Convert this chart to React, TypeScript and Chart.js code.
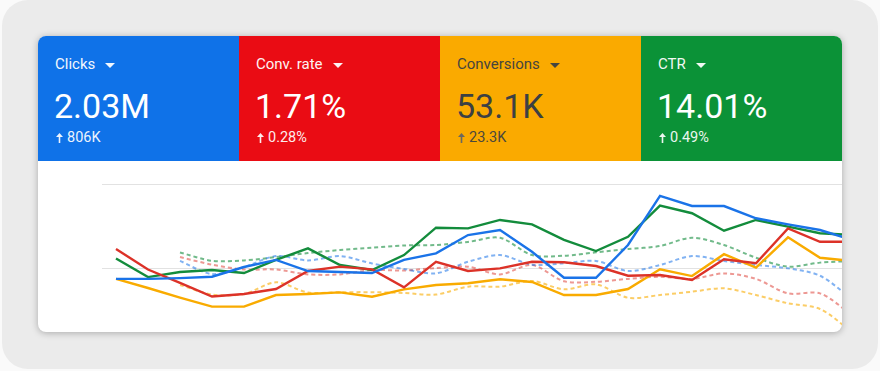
import React, { useEffect, useRef } from "react";
import { Chart, registerables } from "chart.js";

Chart.register(...registerables);

// ---- Data ----
const periods = [
  "W1", "W2", "W3", "W4", "W5", "W6", "W7", "W8", "W9", "W10", "W11", "W12",
  "W13", "W14", "W15", "W16", "W17", "W18", "W19", "W20", "W21", "W22", "W23", "W24",
];

// current period (solid lines), normalised index 0-100
const clicks = [43.5, 43.5, 44.0, 44.8, 50.6, 54.8, 48.2, 47.6, 47.0, 54.8, 58.7, 69.6, 72.6, 59.7, 44.2, 44.2, 63.7, 92.9, 86.9, 86.9, 79.6, 76.0, 72.6, 66.7];
const convRate = [61.3, 49.1, 41.1, 33.0, 34.5, 37.5, 48.2, 50.8, 49.2, 38.5, 53.7, 48.2, 49.8, 53.7, 53.4, 51.2, 45.4, 45.8, 42.9, 55.2, 52.8, 73.6, 65.6, 65.6];
const conversions = [43.5, 38.1, 32.4, 27.0, 27.0, 33.9, 34.5, 35.5, 32.9, 37.3, 39.9, 40.9, 43.3, 41.7, 33.9, 33.9, 37.5, 49.2, 45.2, 58.2, 50.2, 68.3, 56.1, 54.2];
const ctr = [55.7, 44.6, 47.6, 48.8, 47.0, 54.8, 61.7, 51.8, 48.8, 57.7, 74.0, 73.6, 78.6, 76.0, 66.7, 60.1, 68.6, 87.1, 82.6, 72.2, 78.6, 74.6, 70.7, 69.6];

// previous period (dashed lines)
const clicksPrev = [null, null, 54.2, 46.4, 50.6, 57.1, 54.5, 57.1, 52.7, 49.4, 46.8, 53.7, 57.7, 52.0, 52.8, 54.2, 48.2, 51.8, 57.1, 54.2, 51.8, 49.8, 45.4, 31.5];
const convRatePrev = [null, null, 56.5, 52.0, 49.1, 49.1, 46.2, 46.2, 48.8, 48.5, 50.0, 50.8, 46.2, 51.8, 42.1, 41.8, 43.5, 44.8, 43.5, 46.8, 43.5, 34.9, 34.9, 22.0];
const conversionsPrev = [null, null, 39.9, 34.2, 34.5, 41.5, 35.4, 35.6, 35.6, 35.1, 34.2, 38.9, 38.9, 42.3, 37.3, 40.3, 32.3, 33.9, 35.9, 37.9, 33.9, 29.0, 25.6, 11.9];
const ctrPrev = [null, null, 59.2, 54.3, 54.5, 56.5, 58.9, 60.7, 62.1, 63.4, 63.7, 65.5, 68.0, 57.7, 57.3, 59.3, 61.3, 63.1, 68.0, 63.7, 56.1, 50.8, 53.2, 54.2];

const yTicks = [0, 50, 100];

const tileTitles = ["Clicks", "Conv. rate", "Conversions", "CTR"];
const tileValues = ["2.03M", "1.71%", "53.1K", "14.01%"];
const tileDeltas = ["806K", "0.28%", "23.3K", "0.49%"];

// ---- Styles ----
const tileBg = ["#0f72e8", "#ea0c14", "#faaa00", "#0b9237"];
const tileFg = ["#ffffff", "#ffffff", "#3c4043", "#ffffff"];
const lineColors = ["#1a73e8", "#dc3228", "#f9ab00", "#138c3c"];
const dashColors = [
  "rgba(26,115,232,0.55)",
  "rgba(220,50,40,0.5)",
  "rgba(249,171,0,0.6)",
  "rgba(19,140,60,0.6)",
];

const toPts = (arr: (number | null)[]) => arr.map((v, i) => ({ x: i, y: v }));

function Arrow({ color }: { color: string }) {
  return (
    <svg width="7" height="10" viewBox="0 0 7 10" style={{ marginRight: 4, display: "inline-block" }}>
      <path d="M3.5 0 L7 4 L4.3 4 L4.3 10 L2.7 10 L2.7 4 L0 4 Z" fill={color} />
    </svg>
  );
}

function Tile({ i }: { i: number }) {
  const fg = tileFg[i];
  return (
    <div
      style={{
        position: "absolute",
        left: i * 201,
        top: 0,
        width: 201,
        height: 125,
        background: tileBg[i],
        color: fg,
      }}
    >
      <div
        style={{
          position: "absolute",
          left: 17,
          top: 20.5,
          fontSize: 15,
          lineHeight: "15px",
          whiteSpace: "nowrap",
          display: "flex",
          alignItems: "center",
          opacity: 0.95,
        }}
      >
        <span>{tileTitles[i]}</span>
        <span
          style={{
            display: "inline-block",
            marginLeft: 10,
            width: 0,
            height: 0,
            borderLeft: "5px solid transparent",
            borderRight: "5px solid transparent",
            borderTop: `5px solid ${fg}`,
            marginTop: 2,
          }}
        />
      </div>
      <div
        style={{
          position: "absolute",
          left: 16,
          top: 52.5,
          fontSize: 34,
          lineHeight: "34px",
          whiteSpace: "nowrap",
        }}
      >
        {tileValues[i]}
      </div>
      <div
        style={{
          position: "absolute",
          left: 18,
          top: 95,
          fontSize: 14.5,
          lineHeight: "14.5px",
          whiteSpace: "nowrap",
          display: "flex",
          alignItems: "center",
          opacity: 0.92,
        }}
      >
        <Arrow color={i === 2 ? "#5f6368" : fg} />
        <span>{tileDeltas[i]}</span>
      </div>
    </div>
  );
}

export default function App() {
  const canvasRef = useRef<HTMLCanvasElement | null>(null);

  useEffect(() => {
    if (!canvasRef.current) return;
    const solid = [clicks, convRate, conversions, ctr];
    const prev = [clicksPrev, convRatePrev, conversionsPrev, ctrPrev];
    const datasets: any[] = [];
    solid.forEach((arr, k) => {
      datasets.push({
        label: tileTitles[k],
        data: toPts(arr),
        borderColor: lineColors[k],
        borderWidth: 2.4,
        pointRadius: 0,
        tension: 0,
        fill: false,
        order: 1,
      });
    });
    prev.forEach((arr, k) => {
      datasets.push({
        label: tileTitles[k] + " (previous)",
        data: toPts(arr),
        borderColor: dashColors[k],
        borderWidth: 2,
        borderDash: [4, 3],
        pointRadius: 0,
        tension: 0.3,
        fill: false,
        order: 2,
      });
    });

    const chart = new Chart(canvasRef.current, {
      type: "line",
      data: { labels: periods, datasets },
      options: {
        animation: false,
        responsive: false,
        maintainAspectRatio: false,
        layout: { padding: { left: 64, top: 23, right: 12, bottom: 9 } },
        plugins: { legend: { display: false }, tooltip: { enabled: false } },
        scales: {
          x: {
            type: "linear",
            min: -0.4375,
            max: 23.5,
            display: true,
            grid: { display: false, drawTicks: false },
            border: { display: false },
            ticks: { display: false },
            afterFit: (s: any) => {
              s.height = 0;
            },
          },
          y: {
            min: yTicks[0],
            max: yTicks[yTicks.length - 1],
            afterBuildTicks: (s: any) => {
              s.ticks = yTicks.map((v) => ({ value: v }));
            },
            grid: { color: "#e2e2e2", lineWidth: 1, drawTicks: false },
            border: { display: false },
            ticks: { display: false },
            afterFit: (s: any) => {
              s.width = 0;
            },
          },
        },
      },
    });
    return () => chart.destroy();
  }, []);

  return (
    <div
      style={{
        position: "absolute",
        left: 0,
        top: 0,
        width: 880,
        height: 371,
        background: "#fafafa",
        fontFamily: "Roboto, 'Noto Sans', sans-serif",
        overflow: "hidden",
      }}
    >
      <div
        style={{
          position: "absolute",
          left: 2,
          top: 0,
          width: 876,
          height: 369,
          background: "#ebebeb",
          borderRadius: 26,
        }}
      />
      <div
        style={{
          position: "absolute",
          left: 38,
          top: 36,
          width: 804,
          height: 296,
          background: "#ffffff",
          borderRadius: 8,
          overflow: "hidden",
          boxShadow: "0 1px 7px rgba(0,0,0,0.28)",
        }}
      >
        {[0, 1, 2, 3].map((i) => (
          <Tile key={i} i={i} />
        ))}
        <canvas
          ref={canvasRef}
          width={842}
          height={200}
          style={{ position: "absolute", left: 0, top: 125, width: 842, height: 200 }}
        />
      </div>
    </div>
  );
}
